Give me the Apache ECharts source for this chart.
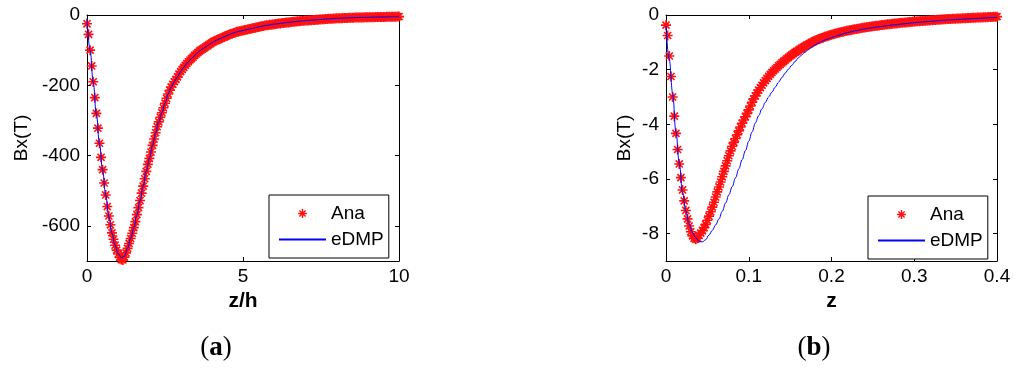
<!DOCTYPE html>
<html><head><meta charset="utf-8">
<script src="https://cdn.jsdelivr.net/npm/echarts@6/dist/echarts.min.js"></script>
<style>html,body{margin:0;padding:0;background:#fff}#c{width:1024px;height:368px}</style>
</head><body><div id="c"></div>
<script>
// ---- data ----
const seriesNames = ['Ana', 'eDMP'];
const leftXName = 'z/h';
const rightXName = 'z';
const yName = 'Bx(T)';
const captionLetters = ['a', 'b'];

const leftXTicks = [0, 5, 10];
const leftYTicks = [0, -200, -400, -600];
const rightXTicks = [0, 0.1, 0.2, 0.3, 0.4];
const rightYTicks = [0, -2, -4, -6, -8];
const leftXRange = [0, 10];
const leftYRange = [-700, 0];
const rightXRange = [0, 0.4];
const rightYRange = [-9, 0];

// (a) Ana, z/h = 0, 0.05, ... 10
const anaLeftStep = 0.05;
const anaLeft = [
  -25,-55,-100,-145,-190,-235,-280,-322,-365,-405,-440,-478,-512,-545,-572,-597,-620,-638,-655,-669,
  -680,-690,-696,-697,-689,-677,-664,-650,-636,-621,-605,-588,-568,-548,-528,-507,-487,-466,-445,-425,
  -408,-390,-371,-353,-335,-318,-304,-291,-278,-264,-251,-237,-225,-214,-205,-197,-190,-183,-176,-168,
  -161,-155,-149,-143,-138,-133,-128,-124,-120,-115,-111,-107,-103,-100,-97,-94,-91,-88,-85,-82,
  -79,-76,-74,-72,-70,-68,-66,-64,-62,-60,-58,-56,-54,-53,-51,-50,-48,-47,-46,-45,
  -44,-43,-42,-41,-40,-39,-38,-37,-36,-35,-34,-33,-32,-31,-30,-29.5,-29,-28,-27.5,-27,
  -26,-25.5,-25,-24.5,-24,-23,-22.5,-22,-21.5,-21,-20.5,-20,-19.5,-19,-18.5,-18,-17.5,-17,-16.7,-16.3,
  -16,-15.6,-15.3,-15,-14.6,-14.3,-14,-13.6,-13.3,-13,-12.6,-12.3,-12,-11.7,-11.3,-11,-10.7,-10.4,-10.1,-9.9,
  -9.6,-9.4,-9.2,-9,-8.8,-8.6,-8.4,-8.2,-8,-7.9,-7.7,-7.5,-7.4,-7.2,-7.1,-7,-6.9,-6.8,-6.7,-6.6,
  -6.5,-6.4,-6.3,-6.2,-6.1,-6,-5.9,-5.8,-5.7,-5.6,-5.5,-5.4,-5.3,-5.2,-5.1,-5,-4.9,-4.8,-4.7,-4.6,
  -4.5
];
// (a) eDMP, z/h = 0, 0.1, ... 10
const edmpLeftStep = 0.1;
const edmpLeft = [
  -10,-100,-192,-282,-367,-442,-513,-573,-621,-656,
  -680,-690,-686,-664,-636,-605,-568,-528,-487,-445,
  -408,-371,-335,-304,-278,-251,-225,-205,-190,-176,
  -161,-149,-138,-128,-120,-111,-103,-97,-91,-85,
  -79,-74,-70,-66,-62,-58,-54,-51,-48,-46,
  -44,-42,-40,-38,-36,-34,-32,-30,-29,-27.5,
  -26,-25,-24,-22.5,-21.5,-20.5,-19.5,-18.5,-17.5,-16.7,
  -16,-15.3,-14.6,-14,-13.3,-12.6,-12,-11.3,-10.7,-10.1,
  -9.6,-9.2,-8.8,-8.4,-8,-7.7,-7.4,-7.1,-6.9,-6.7,
  -6.5,-6.3,-6.1,-5.9,-5.7,-5.5,-5.3,-5.1,-4.9,-4.7,
  -4.5
];
// (b) Ana, z = 0, 0.002, ... 0.4
const anaRightStep = 0.002;
const anaRight = [
  -0.37,-0.75,-1.50,-2.25,-3.00,-3.70,-4.33,-4.92,-5.45,-5.95,-6.40,-6.80,-7.15,-7.46,-7.72,-7.93,-8.08,-8.17,-8.20,-8.17,
  -8.06,-7.98,-7.89,-7.78,-7.66,-7.51,-7.36,-7.20,-7.03,-6.85,-6.66,-6.47,-6.29,-6.11,-5.92,-5.72,-5.52,-5.33,-5.15,-4.97,
  -4.80,-4.66,-4.52,-4.38,-4.24,-4.10,-3.96,-3.84,-3.72,-3.60,-3.47,-3.33,-3.19,-3.07,-2.96,-2.85,-2.75,-2.66,-2.57,-2.48,
  -2.40,-2.32,-2.24,-2.17,-2.10,-2.04,-1.98,-1.92,-1.86,-1.81,-1.75,-1.70,-1.65,-1.60,-1.55,-1.50,-1.46,-1.41,-1.37,-1.33,
  -1.29,-1.25,-1.21,-1.17,-1.14,-1.10,-1.07,-1.04,-1.00,-0.97,-0.94,-0.92,-0.89,-0.87,-0.84,-0.82,-0.80,-0.78,-0.76,-0.74,
  -0.72,-0.70,-0.69,-0.67,-0.65,-0.64,-0.62,-0.61,-0.59,-0.58,-0.57,-0.56,-0.55,-0.53,-0.52,-0.51,-0.50,-0.49,-0.48,-0.47,
  -0.46,-0.45,-0.44,-0.43,-0.42,-0.41,-0.40,-0.395,-0.39,-0.38,-0.37,-0.363,-0.356,-0.349,-0.342,-0.335,-0.328,-0.321,-0.314,-0.307,
  -0.30,-0.294,-0.288,-0.282,-0.276,-0.27,-0.264,-0.258,-0.252,-0.246,-0.24,-0.235,-0.231,-0.226,-0.222,-0.217,-0.213,-0.208,-0.204,-0.199,
  -0.195,-0.19,-0.186,-0.181,-0.177,-0.172,-0.168,-0.163,-0.159,-0.154,-0.15,-0.147,-0.144,-0.141,-0.138,-0.135,-0.132,-0.129,-0.126,-0.123,
  -0.12,-0.117,-0.114,-0.111,-0.108,-0.105,-0.102,-0.099,-0.096,-0.093,-0.09,-0.087,-0.084,-0.081,-0.078,-0.075,-0.072,-0.069,-0.066,-0.063,
  -0.06
];
// (b) eDMP, z = 0, 0.004, ... 0.4
const edmpRightStep = 0.004;
const edmpRight = [
  -0.40,-1.65,-2.85,-4.27,-5.40,-6.50,-7.18,-7.66,-7.96,-8.15,
  -8.28,-8.30,-8.22,-8.05,-7.88,-7.68,-7.46,-7.18,-6.88,-6.58,
  -6.28,-5.96,-5.63,-5.29,-4.96,-4.62,-4.28,-3.95,-3.68,-3.43,
  -3.20,-3.00,-2.82,-2.64,-2.46,-2.29,-2.13,-1.98,-1.84,-1.70,
  -1.57,-1.46,-1.36,-1.27,-1.18,-1.10,-1.03,-0.97,-0.92,-0.87,
  -0.83,-0.79,-0.75,-0.71,-0.67,-0.64,-0.61,-0.58,-0.56,-0.53,
  -0.51,-0.49,-0.47,-0.45,-0.44,-0.42,-0.40,-0.39,-0.37,-0.36,
  -0.35,-0.33,-0.32,-0.31,-0.29,-0.28,-0.27,-0.26,-0.25,-0.24,
  -0.23,-0.22,-0.21,-0.20,-0.19,-0.18,-0.175,-0.17,-0.16,-0.155,
  -0.15,-0.14,-0.135,-0.13,-0.125,-0.12,-0.11,-0.105,-0.10,-0.095,
  -0.09
];

// ---- chart ----
const FONT = '"Liberation Sans", Arial, sans-serif';
const SERIF = '"Liberation Serif", "Times New Roman", serif';
const STAR = 'path://M-1.6,-10L1.6,-10L1.6,10L-1.6,10Z M-10,-1.6L10,-1.6L10,1.6L-10,1.6Z M-5.94,-8.2L8.2,5.94L5.94,8.2L-8.2,-5.94Z M-5.94,8.2L-8.2,5.94L5.94,-8.2L8.2,-5.94Z';

function pairs(vals, step) { return vals.map((v, i) => [+(i * step).toFixed(6), v]); }

function xAxisMain(g, range, ticks, name) {
  return {
    type: 'value', gridIndex: g, min: range[0], max: range[1], position: 'bottom',
    name: name, nameLocation: 'middle', nameGap: 29,
    nameTextStyle: { fontSize: 21, fontWeight: 'bold', color: '#000', fontFamily: FONT },
    axisLine: { show: true, onZero: false, lineStyle: { color: '#000', width: 1 } },
    axisTick: { show: true, inside: true, length: 4, customValues: ticks, lineStyle: { color: '#000', width: 1 } },
    axisLabel: { show: true, customValues: ticks, fontSize: 19, color: '#000', margin: 6, fontFamily: FONT },
    splitLine: { show: false }
  };
}
function xAxisTop(g, range, ticks) {
  return {
    type: 'value', gridIndex: g, min: range[0], max: range[1], position: 'top',
    axisLine: { show: true, onZero: false, lineStyle: { color: '#000', width: 1 } },
    axisTick: { show: true, inside: true, length: 4, customValues: ticks, lineStyle: { color: '#000', width: 1 } },
    axisLabel: { show: false, customValues: ticks },
    splitLine: { show: false }
  };
}
function yAxisMain(g, range, ticks, gap) {
  return {
    type: 'value', gridIndex: g, min: range[0], max: range[1], position: 'left',
    name: yName, nameLocation: 'middle', nameGap: gap,
    nameTextStyle: { fontSize: 19, color: '#000', fontFamily: FONT },
    axisLine: { show: true, onZero: false, lineStyle: { color: '#000', width: 1 } },
    axisTick: { show: true, inside: true, length: 4, customValues: ticks, lineStyle: { color: '#000', width: 1 } },
    axisLabel: { show: true, customValues: ticks, fontSize: 19, color: '#000', margin: 7, fontFamily: FONT },
    splitLine: { show: false }
  };
}
function yAxisRight(g, range, ticks) {
  return {
    type: 'value', gridIndex: g, min: range[0], max: range[1], position: 'right',
    axisLine: { show: true, onZero: false, lineStyle: { color: '#000', width: 1 } },
    axisTick: { show: true, inside: true, length: 4, customValues: ticks, lineStyle: { color: '#000', width: 1 } },
    axisLabel: { show: false, customValues: ticks },
    splitLine: { show: false }
  };
}
function anaSeries(xi, yi, data) {
  return {
    name: seriesNames[0], type: 'line', xAxisIndex: xi, yAxisIndex: yi, data: data,
    symbol: STAR, symbolSize: 10, showSymbol: true, showAllSymbol: true, clip: false,
    lineStyle: { width: 0 }, itemStyle: { color: '#ff1010', borderWidth: 0 },
    z: 2, silent: true, animation: false
  };
}
function edmpSeries(xi, yi, data) {
  return {
    name: seriesNames[1], type: 'line', xAxisIndex: xi, yAxisIndex: yi, data: data,
    symbol: 'none', smooth: 0.4, smoothMonotone: 'x', clip: true,
    lineStyle: { color: '#0000ff', width: 1 }, itemStyle: { color: '#0000ff' },
    z: 3, silent: true, animation: false
  };
}
function legendAt(left, top) {
  return {
    data: [
      { name: seriesNames[0] },
      { name: seriesNames[1], itemStyle: { opacity: 0 } }
    ],
    left: left, top: top, orient: 'vertical',
    itemWidth: 47, itemHeight: 11, itemGap: 7, padding: [9, 5, 9, 9],
    borderColor: '#000', borderWidth: 1, backgroundColor: '#fff', borderRadius: 0,
    selectedMode: false, z: 10,
    textStyle: { fontSize: 19, color: '#000', fontFamily: FONT, width: 57 }
  };
}
function caption(x, y, letter) {
  return {
    type: 'text', x: x, y: y, z: 10,
    style: {
      text: '{p|(}{b|' + letter + '}{p|)}', align: 'center', verticalAlign: 'middle',
      rich: {
        p: { fontSize: 27, fontFamily: SERIF, fontWeight: 'normal', fill: '#000' },
        b: { fontSize: 27, fontFamily: SERIF, fontWeight: 'bold', fill: '#000' }
      }
    }
  };
}

const chart = echarts.init(document.getElementById('c'), null, { renderer: 'canvas' });
chart.setOption({
  animation: false,
  backgroundColor: '#fff',
  grid: [
    { left: 87, top: 15, width: 312, height: 246, containLabel: false, outerBoundsMode: 'none' },
    { left: 666, top: 15, width: 331, height: 246, containLabel: false, outerBoundsMode: 'none' }
  ],
  xAxis: [
    xAxisMain(0, leftXRange, leftXTicks, leftXName),
    xAxisTop(0, leftXRange, leftXTicks),
    xAxisMain(1, rightXRange, rightXTicks, rightXName),
    xAxisTop(1, rightXRange, rightXTicks)
  ],
  yAxis: [
    yAxisMain(0, leftYRange, leftYTicks, 56),
    yAxisRight(0, leftYRange, leftYTicks),
    yAxisMain(1, rightYRange, rightYTicks, 32),
    yAxisRight(1, rightYRange, rightYTicks)
  ],
  legend: [legendAt(269, 195), legendAt(868, 196)],
  series: [
    anaSeries(0, 0, pairs(anaLeft, anaLeftStep)),
    edmpSeries(0, 0, pairs(edmpLeft, edmpLeftStep)),
    anaSeries(2, 2, pairs(anaRight, anaRightStep)),
    edmpSeries(2, 2, pairs(edmpRight, edmpRightStep))
  ],
  graphic: [caption(216, 348, captionLetters[0]), caption(814, 348, captionLetters[1])]
});
</script>
</body></html>
